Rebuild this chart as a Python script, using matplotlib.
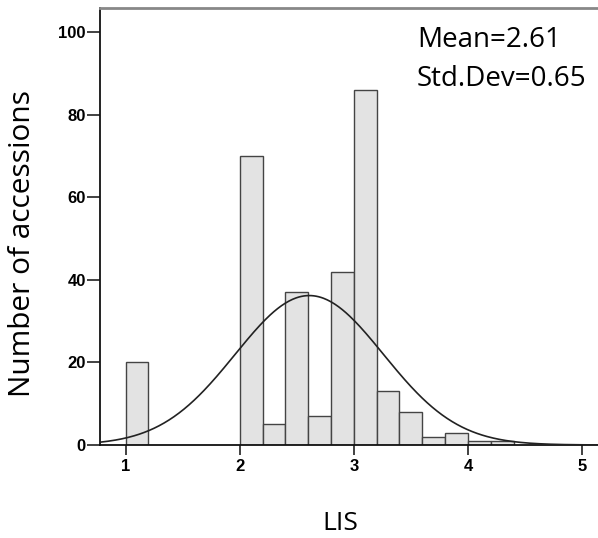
import numpy as np
import matplotlib
matplotlib.use("Agg")
import matplotlib.pyplot as plt

# Histogram data (bin left edges, width 0.2)
bin_lefts = [1.0, 2.0, 2.2, 2.4, 2.6, 2.8, 3.0, 3.2, 3.4, 3.6, 3.8, 4.0, 4.2]
counts = [20, 70, 5, 37, 7, 42, 86, 13, 8, 2, 3, 1, 1]
bin_width = 0.2
mean_val = 2.61
std_val = 0.65
x_ticks = [1, 2, 3, 4, 5]
y_ticks = [0, 20, 40, 60, 80, 100]

fig = plt.figure(figsize=(5.98, 5.38), dpi=100)
ax = fig.add_axes([0.168, 0.1729, 0.832, 0.8122])

ax.bar(bin_lefts, counts, width=bin_width, align='edge',
       color='#e3e3e3', edgecolor='#444444', linewidth=1.0, zorder=2)

n_total = sum(counts)
xs = np.linspace(0.78, 5.14, 400)
pdf = np.exp(-0.5 * ((xs - mean_val) / std_val) ** 2) / (std_val * np.sqrt(2 * np.pi))
ax.plot(xs, pdf * n_total * bin_width, color='#222222', linewidth=1.2, zorder=3)

ax.set_xlim(0.78, 5.14)
ax.set_ylim(0, 105.9)
ax.set_xticks(x_ticks)
ax.set_yticks(y_ticks)
ax.set_xticklabels([str(t) for t in x_ticks], fontsize=12, fontweight='bold',
                   family='Liberation Sans')
ax.set_yticklabels([str(t) for t in y_ticks], fontsize=12, fontweight='bold',
                   family='Liberation Sans')
ax.tick_params(axis='y', direction='out', length=9.5, width=1.3, color='#333333', pad=1)
ax.tick_params(axis='x', direction='out', length=7, width=1.3, color='#333333', pad=3)

for s in ['left', 'bottom']:
    ax.spines[s].set_color('#111111')
    ax.spines[s].set_linewidth(1.3)
ax.spines['top'].set_color('#888888')
ax.spines['top'].set_linewidth(2)
ax.spines['right'].set_visible(False)

fig.text(23 / 598, 1 - 243.5 / 538, 'Number of accessions', rotation=90,
         ha='center', va='center', fontsize=21.5, family='Open Sans')
fig.text(340 / 598, 1 - 530 / 538, 'LIS', ha='center', va='baseline',
         fontsize=19, family='Open Sans')
fig.text(417 / 598, 1 - 47 / 538, 'Mean=2.61', ha='left', va='baseline',
         fontsize=20, family='Open Sans')
fig.text(417 / 598, 1 - 86 / 538, 'Std.Dev=0.65', ha='left', va='baseline',
         fontsize=20, family='Open Sans')

fig.savefig('out.png', dpi=100)
